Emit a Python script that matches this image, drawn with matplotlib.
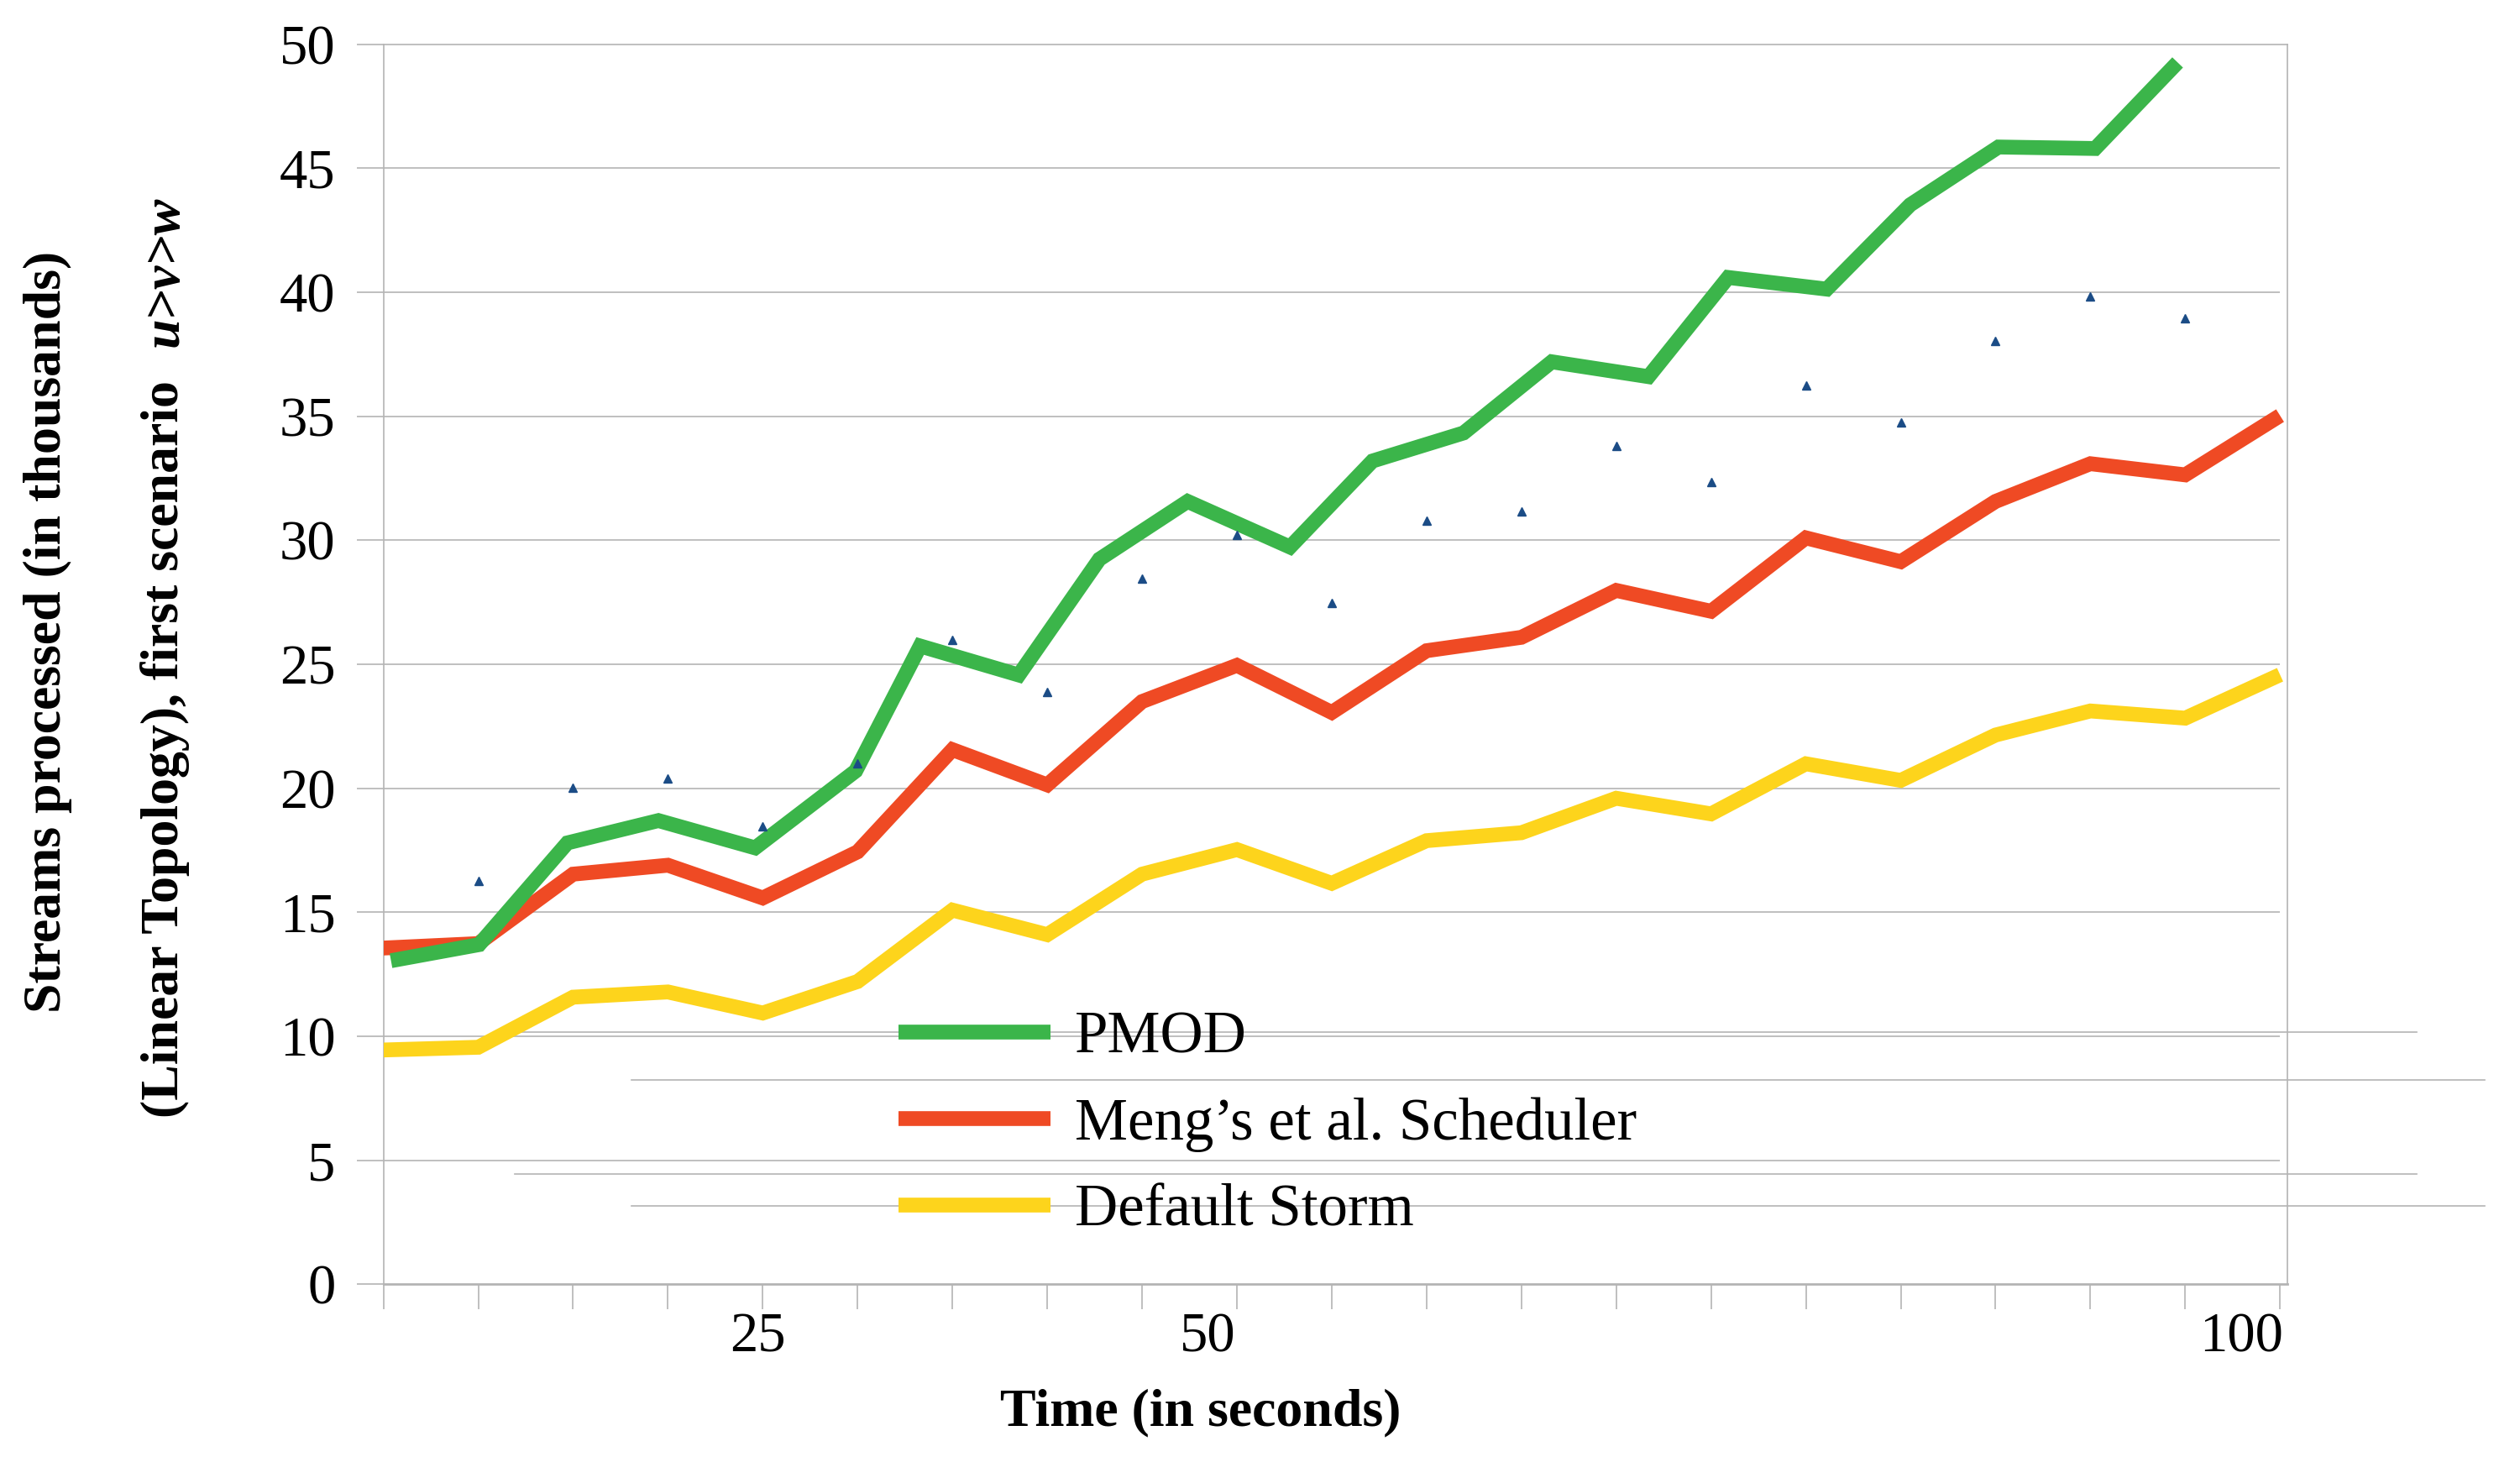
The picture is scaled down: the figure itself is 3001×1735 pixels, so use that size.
import matplotlib
matplotlib.use("Agg")
import matplotlib.pyplot as plt
from matplotlib.lines import Line2D

# ---------------- data ----------------
categories = list(range(21))            # category slots along the time axis
pmod_x = [0.08, 1.01, 1.94, 2.90, 3.92, 4.98, 5.66, 6.70, 7.55, 8.48, 9.56,
          10.43, 11.39, 12.32, 13.34, 14.18, 15.22, 16.10, 17.03, 18.05, 18.92]
pmod = [13.05, 13.7, 17.8, 18.7, 17.6, 20.7, 25.74, 24.57, 29.24, 31.57, 29.73,
        33.2, 34.33, 37.2, 36.6, 40.6, 40.13, 43.53, 45.86, 45.8, 49.27]
meng = [13.56, 13.74, 16.54, 16.9, 15.58, 17.44, 21.56, 20.14, 23.5, 24.96, 23.06,
        25.55, 26.09, 27.98, 27.14, 30.1, 29.14, 31.57, 33.09, 32.64, 35.03]
storm = [9.45, 9.56, 11.58, 11.79, 10.94, 12.21, 15.09, 14.1, 16.54, 17.53, 16.17,
         17.89, 18.21, 19.6, 18.97, 20.99, 20.32, 22.15, 23.12, 22.83, 24.58]
marker_x = list(range(1, 20))
marker_y = [16.27, 20.02, 20.41, 18.48, 21.0, 25.98, 23.9, 28.46, 30.21, 27.49,
            30.8, 31.15, 33.81, 32.35, 36.24, 34.74, 38.03, 39.84, 38.96]
series_names = ["PMOD", "Meng\u2019s et al. Scheduler", "Default Storm"]
y_ticks = [0, 5, 10, 15, 20, 25, 30, 35, 40, 45, 50]
x_label_pos = [3.95, 8.69, 19.59]
x_labels = ["25", "50", "100"]

# ---------------- style ----------------
plt.rcParams["font.family"] = ["Liberation Serif", "DejaVu Serif"]
GREEN, RED, YELLOW = "#3BB54A", "#EF4A24", "#FDD41C"
BLUE = "#1B4C86"
GREY = "#B4B4B4"
LW = 12.7

W, H = 3001, 1735
fig = plt.figure(figsize=(W / 100, H / 100), dpi=100)
fig.patch.set_facecolor("white")


def fx(px):
    return px / W


def fy(py):
    return 1 - py / H


ax = fig.add_axes([fx(456.6), fy(1529.4), (2724.3 - 456.6) / W, (1529.4 - 52.8) / H])
ax.set_xlim(0, 20.08)
ax.set_ylim(0, 50)

# gridlines
ax.hlines(y_ticks[1:-1], 0, 20, color=GREY, lw=1.2, zorder=1)

# series
line_kw = dict(lw=LW, solid_joinstyle="miter", solid_capstyle="butt")
l_storm, = ax.plot(categories, storm, color=YELLOW, zorder=3, label=series_names[2], **line_kw)
l_meng, = ax.plot(categories, meng, color=RED, zorder=4, label=series_names[1], **line_kw)
l_pmod, = ax.plot(pmod_x, pmod, color=GREEN, zorder=5, label=series_names[0], **line_kw)
ax.plot(marker_x, marker_y, ls="none", marker="^", ms=6.5, color=BLUE, mec=BLUE, zorder=6)

# axes / ticks
for s in ax.spines.values():
    s.set_color(GREY)
    s.set_linewidth(1.2)
ax.spines["bottom"].set_linewidth(2.0)

ax.set_yticks(y_ticks)
ax.tick_params(axis="y", length=23, width=1.2, color=GREY, pad=18, labelsize=48)
ax.set_xticks(categories, minor=True)
ax.tick_params(axis="x", which="minor", length=21.6, width=1.2, color=GREY)
ax.set_xticks(x_label_pos, x_labels)
ax.tick_params(axis="x", which="major", length=0, pad=24, labelsize=48)

# stray frame lines (legend-box remnants in the original)
for (a, b, yy) in [(612.5, 2877.7, 1229.3), (751.8, 2959.3, 1286.3),
                   (612.5, 2877.7, 1398.3), (751.8, 2959.3, 1436.3)]:
    ax.add_line(Line2D([fx(a), fx(b)], [fy(yy), fy(yy)], transform=fig.transFigure,
                       color=GREY, lw=1.2, clip_on=False, zorder=1.5))

# legend
ax.legend(handles=[l_pmod, l_meng, l_storm], loc="upper left",
          bbox_to_anchor=(fx(1070), fy(1204)), bbox_transform=fig.transFigure,
          frameon=False, fontsize=51, handlelength=2.55, handletextpad=0.42,
          labelspacing=0.53, borderpad=0, borderaxespad=0)

# axis titles
fig.text(fx(1430), fy(1697), "Time (in seconds)", ha="center", va="baseline",
         fontsize=46, fontweight="bold")
fig.text(fx(72), fy(752), "Streams processed (in thousands)", rotation=90,
         rotation_mode="anchor", ha="center", va="baseline", fontsize=46,
         fontweight="bold")

renderer = fig.canvas.get_renderer()
part1 = "(Linear Topology), first scenario"
part2 = "u>v>w"
tmp1 = fig.text(0, 0, part1, fontsize=46, fontweight="bold")
tmp2 = fig.text(0, 0, part2, fontsize=46, fontweight="bold", fontstyle="italic")
L1 = tmp1.get_window_extent(renderer).width
L2 = tmp2.get_window_extent(renderer).width
tmp1.remove()
tmp2.remove()
gap = 40
total = L1 + gap + L2
start = fy(782) - (total / 2) / H
fig.text(fx(212), start, part1, rotation=90, rotation_mode="anchor", ha="left",
         va="baseline", fontsize=46, fontweight="bold")
fig.text(fx(212), start + (L1 + gap) / H, part2, rotation=90, rotation_mode="anchor",
         ha="left", va="baseline", fontsize=46, fontweight="bold", fontstyle="italic")

fig.savefig("out.png", dpi=100, facecolor="white")
